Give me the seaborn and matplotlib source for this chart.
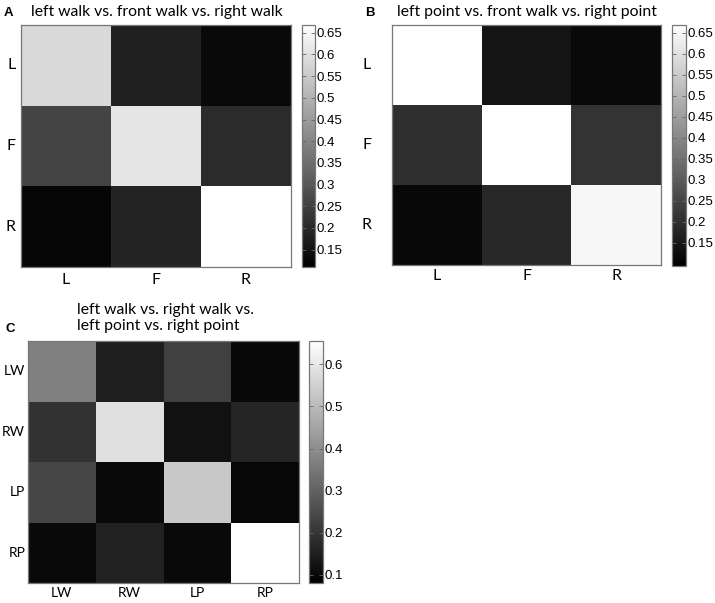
import numpy as np
import pandas as pd
import matplotlib
matplotlib.use('Agg')
import matplotlib.pyplot as plt
import seaborn as sns

# data (correlation-like values)
labels_3 = ['L', 'F', 'R']
values_a = [[0.585, 0.180, 0.130],
            [0.260, 0.610, 0.205],
            [0.125, 0.190, 0.668]]
values_b = [[0.670, 0.140, 0.117],
            [0.200, 0.665, 0.210],
            [0.115, 0.185, 0.650]]
labels_4 = ['LW', 'RW', 'LP', 'RP']
values_c = [[0.370, 0.150, 0.225, 0.100],
            [0.195, 0.585, 0.120, 0.165],
            [0.240, 0.103, 0.530, 0.097],
            [0.103, 0.155, 0.103, 0.655]]

ticks_ab = [0.15, 0.2, 0.25, 0.3, 0.35, 0.4, 0.45, 0.5, 0.55, 0.6, 0.65]
ticks_c = [0.1, 0.2, 0.3, 0.4, 0.5, 0.6]

title_a = 'left walk vs. front walk vs. right walk'
title_b = 'left point vs. front walk vs. right point'
title_c = 'left walk vs. right walk vs.\nleft point vs. right point'

W, H = 715, 603
fig = plt.figure(figsize=(W / 100, H / 100), dpi=100)
plt.rcParams['font.family'] = ['Lato', 'DejaVu Sans']


def box(x0, y0, x1, y1):
    # pixel box -> figure fraction
    return [x0 / W, 1 - y1 / H, (x1 - x0) / W, (y1 - y0) / H]


def panel(vals, labels, ax_box, cb_box, vmin, vmax, ticks):
    ax = fig.add_axes(box(*ax_box))
    cax = fig.add_axes(box(*cb_box))
    df = pd.DataFrame(vals, index=labels, columns=labels)
    sns.heatmap(df, ax=ax, cbar_ax=cax, cmap='gray', vmin=vmin, vmax=vmax,
                square=False, linewidths=0)
    for s in ax.spines.values():
        s.set_visible(True)
        s.set_color('#777777')
        s.set_linewidth(0.9)
    ax.tick_params(length=0, labelsize=11.5, pad=3)
    ax.set_yticklabels(labels, rotation=0)
    ax.set_xticklabels(labels, rotation=0)
    cb = ax.collections[0].colorbar
    cb.set_ticks(ticks)
    cb.set_ticklabels([('%g' % t) for t in ticks])
    cb.outline.set_edgecolor('#777777')
    cb.outline.set_linewidth(0.9)
    cax.tick_params(direction='in', length=3, width=0.6, color='#666666',
                    labelsize=9.5, pad=1, left=True)
    for t in cax.get_yticklabels():
        t.set_family('Liberation Sans')
    return ax


ax_a = panel(values_a, labels_3, (21, 25, 291, 267), (302, 25, 315, 267),
             0.11, 0.668, ticks_ab)
ax_b = panel(values_b, labels_3, (392, 25, 661, 265), (672, 25, 686, 266),
             0.095, 0.669, ticks_ab)
ax_c = panel(values_c, labels_4, (28, 341, 299, 583), (309, 341, 323, 583),
             0.081, 0.655, ticks_c)

ax_a.tick_params(axis='y', pad=4)
ax_a.tick_params(axis='x', pad=4)
ax_b.tick_params(axis='y', pad=15)
ax_b.tick_params(axis='x', pad=3)
ax_c.tick_params(labelsize=10)
ax_c.tick_params(axis='y', pad=2)
ax_c.tick_params(axis='x', pad=3)

fig.text(157 / W, 1 - 12 / H, title_a, ha='center', va='center', fontsize=11.3)
fig.text(527 / W, 1 - 12 / H, title_b, ha='center', va='center', fontsize=11.3)
fig.text(77 / W, 1 - 318 / H, title_c, ha='left', va='center', fontsize=11.3,
         linespacing=1.25)
fig.text(8 / W, 1 - 13 / H, 'A', ha='center', va='center', fontsize=9.5,
         fontweight='bold', family='Liberation Sans')
fig.text(370 / W, 1 - 13 / H, 'B', ha='center', va='center', fontsize=9.5,
         fontweight='bold', family='Liberation Sans')
fig.text(10 / W, 1 - 329 / H, 'C', ha='center', va='center', fontsize=9.5,
         fontweight='bold', family='Liberation Sans')

fig.savefig('out.png', dpi=100)
